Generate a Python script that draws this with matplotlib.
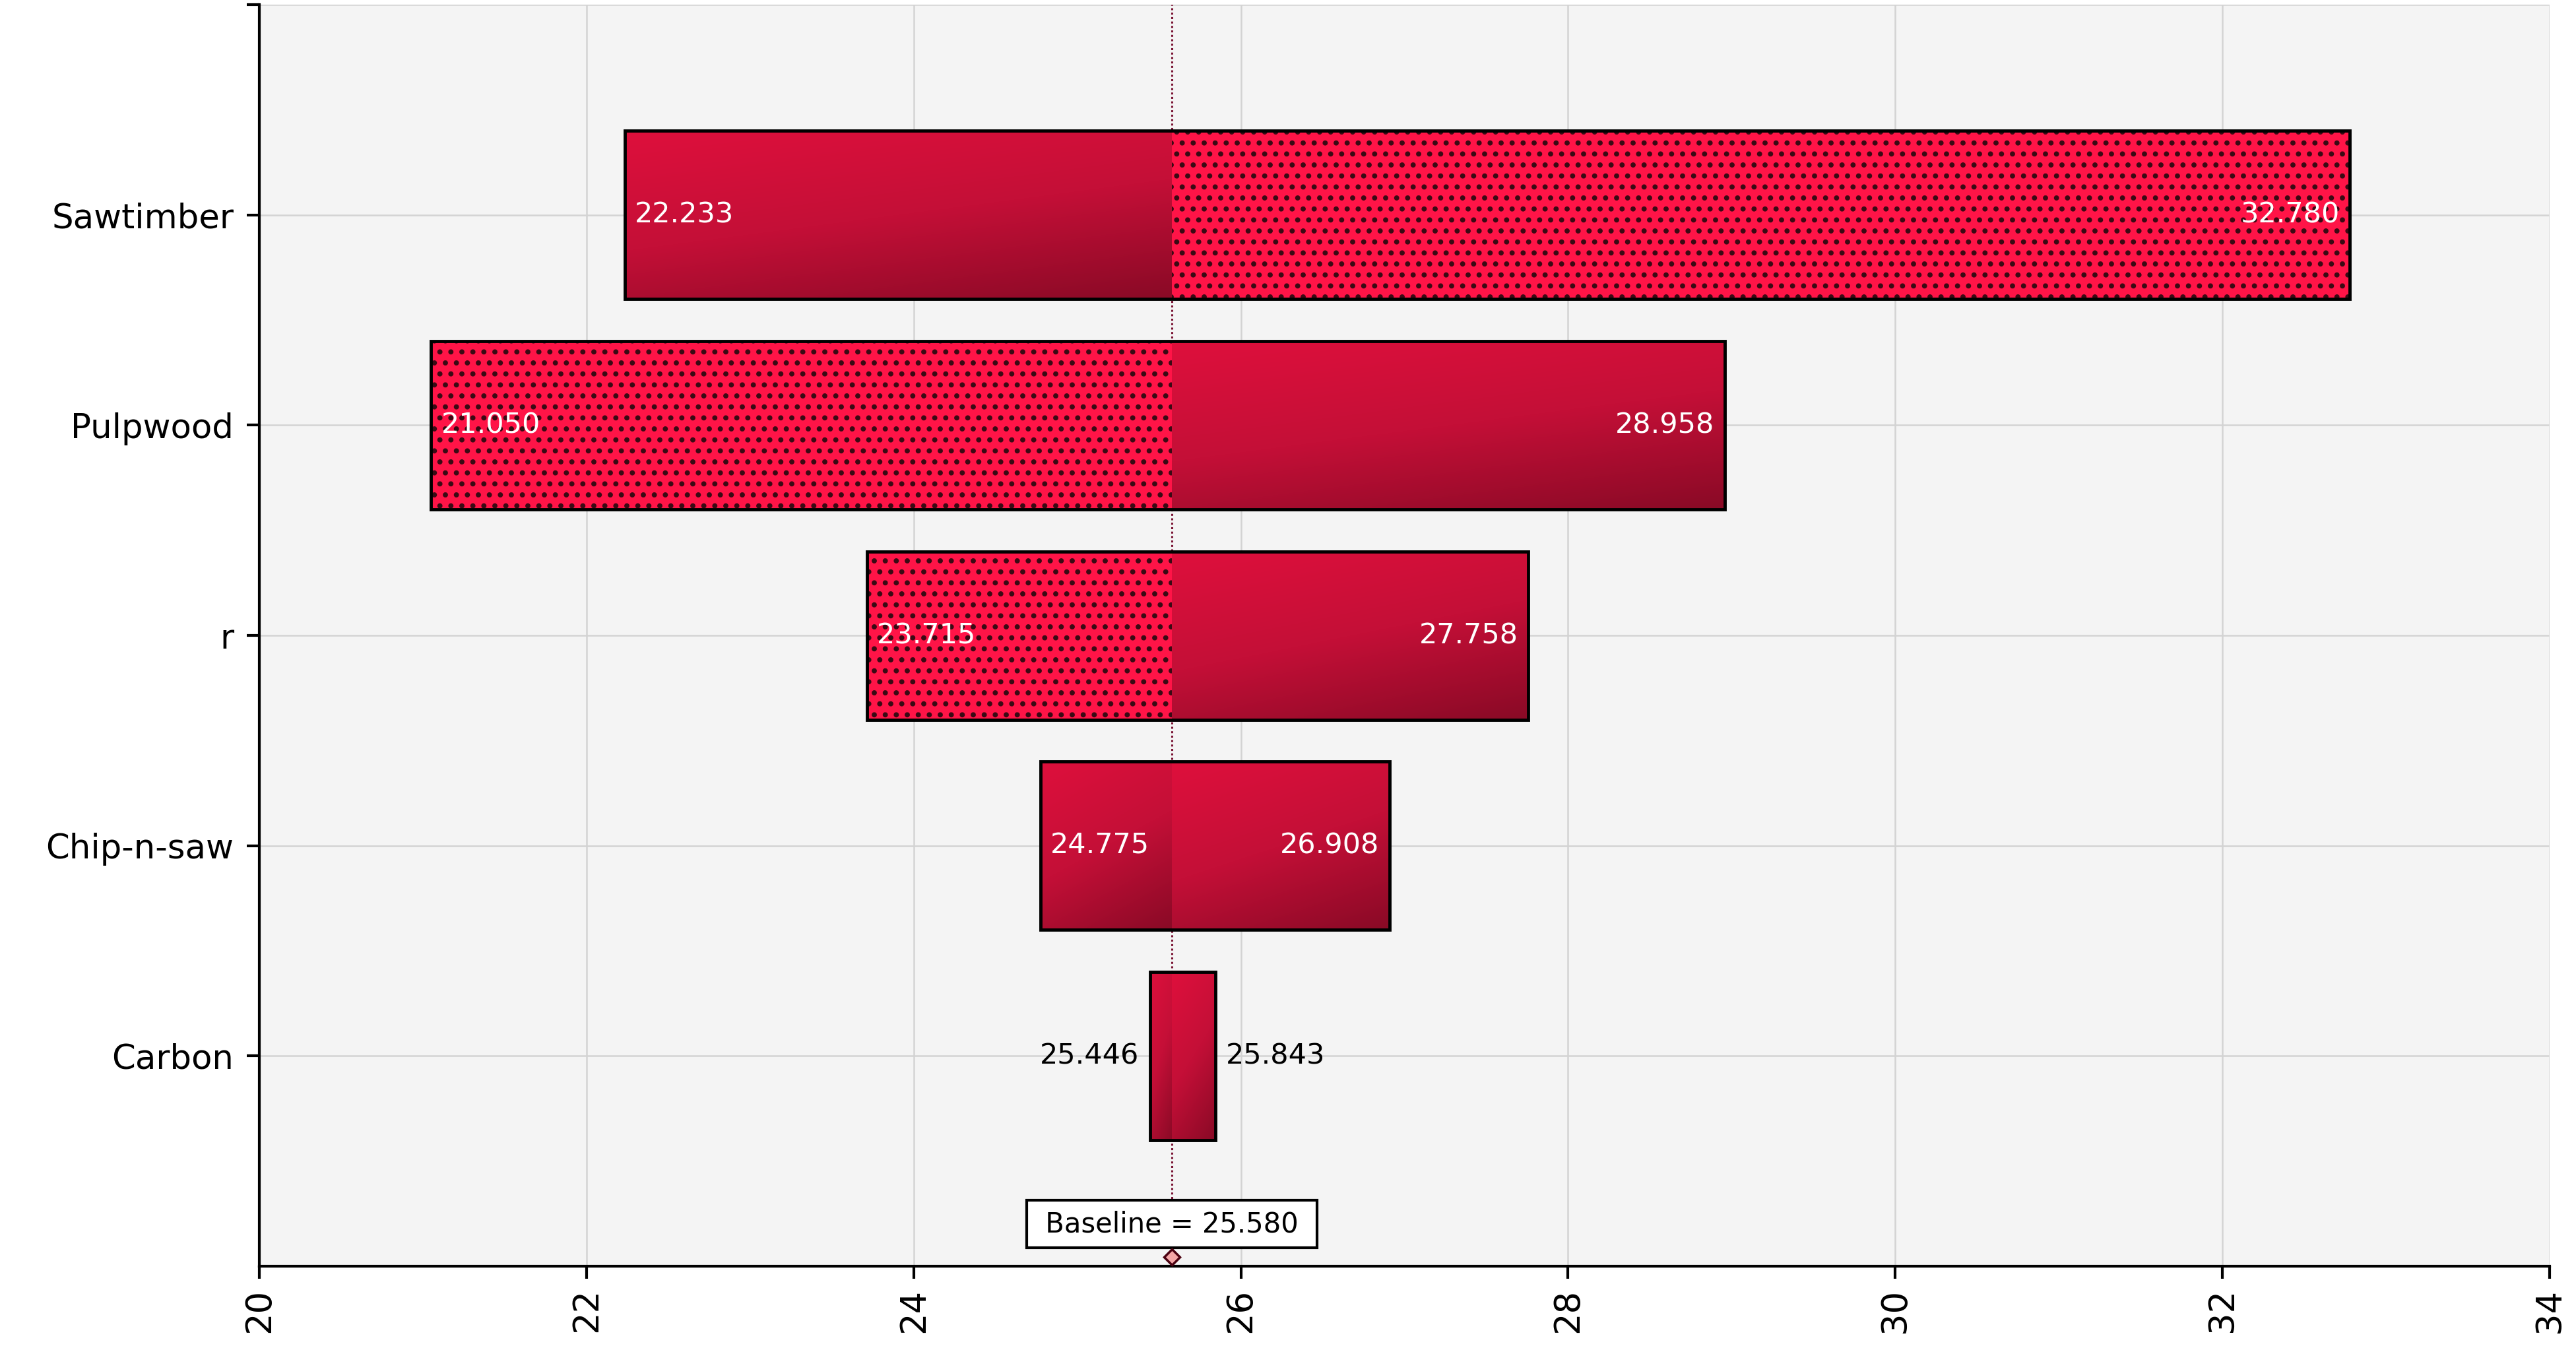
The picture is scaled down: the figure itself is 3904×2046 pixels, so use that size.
"""
Tornado chart of sensitivity around the baseline value
output: out.png
"""

import numpy as np
import matplotlib
matplotlib.use("Agg")
import matplotlib.pyplot as plt
from matplotlib.colors import LinearSegmentedColormap

# -- data --------------------------------------------------------------
categories = ["Sawtimber", "Pulpwood", "r", "Chip-n-saw", "Carbon"]
low_values = [22.233, 21.050, 23.715, 24.775, 25.446]
high_values = [32.780, 28.958, 27.758, 26.908, 25.843]
low_hatched = [False, True, True, False, False]
high_hatched = [True, False, False, False, False]
baseline = 25.580
x_ticks = [20, 22, 24, 26, 28, 30, 32, 34]

plt.rcParams["font.family"] = ["DejaVu Sans"]
plt.rcParams["hatch.linewidth"] = 3.2

fig = plt.figure(figsize=(39.04, 20.46), dpi=100)
ax = fig.add_axes([0.1007, 0.062, 0.889, 0.9346])
ax.set_facecolor("#f4f4f4")

n = len(categories)
y_pos = np.arange(n)[::-1]
bar_h = 0.8

grad_cmap = LinearSegmentedColormap.from_list(
    "crimson", ["#de103c", "#c40f37", "#8a0a26"])
gx, gy = np.meshgrid(np.linspace(0, 1, 64), np.linspace(0, 1, 64))
grad = 0.3 * gx + 0.7 * gy


def draw_segment(x0, x1, y, hatched):
    if x1 <= x0:
        return
    if hatched:
        ax.barh(y, x1 - x0, left=x0, height=bar_h, color="#ff1447",
                edgecolor="#3a0a14", linewidth=0, hatch=".", zorder=3)
    else:
        ax.imshow(grad, extent=[x0, x1, y - bar_h / 2, y + bar_h / 2],
                  cmap=grad_cmap, aspect="auto", origin="upper",
                  interpolation="bicubic", zorder=3)


for i in range(n):
    y = y_pos[i]
    lo, hi = low_values[i], high_values[i]
    draw_segment(lo, baseline, y, low_hatched[i])
    draw_segment(baseline, hi, y, high_hatched[i])
    ax.barh(y, hi - lo, left=lo, height=bar_h, fill=False,
            edgecolor="black", linewidth=3.5, zorder=4)

    # value labels
    if baseline - lo > 0.5:
        ax.annotate(f"{lo:.3f}", (lo, y), xytext=(11, 0), textcoords="offset points",
                    ha="left", va="center", color="white", fontsize=31, zorder=5)
    else:
        ax.annotate(f"{lo:.3f}", (lo, y), xytext=(-12, 0), textcoords="offset points",
                    ha="right", va="center", color="black", fontsize=31, zorder=5)
    if hi - baseline > 0.5:
        ax.annotate(f"{hi:.3f}", (hi, y), xytext=(-11, 0), textcoords="offset points",
                    ha="right", va="center", color="white", fontsize=31, zorder=5)
    else:
        ax.annotate(f"{hi:.3f}", (hi, y), xytext=(12, 0), textcoords="offset points",
                    ha="left", va="center", color="black", fontsize=31, zorder=5)

# baseline line, box and marker
ax.vlines(baseline, -0.72, n, colors="#7a1434", linestyles=(0, (1, 1.2)),
          linewidth=2.2, zorder=2)
ax.text(baseline, -0.8, " Baseline = 25.580 ", ha="center", va="center", fontsize=30,
        zorder=6, bbox=dict(boxstyle="square,pad=0.36", fc="white", ec="black", lw=3))
ax.plot(baseline, -0.955, marker="D", markersize=12, markerfacecolor="#f4a6a6",
        markeredgecolor="#4a0010", markeredgewidth=2.5, zorder=6, clip_on=False)

# axes
ax.set_xlim(20, 34)
ax.set_ylim(-1, n)
ax.set_xticks(x_ticks)
ax.set_xticklabels([str(t) for t in x_ticks], rotation=90, fontsize=38)
ax.set_yticks(range(n + 1))
ax.set_yticklabels(categories[::-1] + [""], fontsize=37)
ax.tick_params(axis="both", direction="out", length=14, width=3, color="black")
ax.tick_params(axis="x", pad=10)
ax.tick_params(axis="y", pad=14)

ax.grid(True, color="#d3d3d3", linewidth=1.8)
ax.set_axisbelow(True)
for side in ["top", "right"]:
    ax.spines[side].set_visible(False)
for side in ["left", "bottom"]:
    ax.spines[side].set_linewidth(3)
    ax.spines[side].set_color("black")

fig.savefig("out.png", dpi=100)
print("saved: out.png")
